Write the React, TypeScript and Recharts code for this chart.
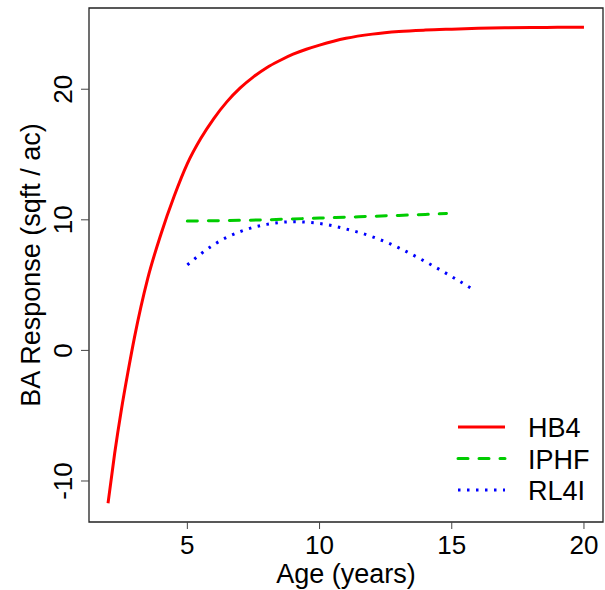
import React from "react";
import { LineChart, Line, XAxis, YAxis, ReferenceArea } from "recharts";

const hb4Age = [2, 2.25, 2.5, 2.75, 3, 3.5, 4, 4.5, 5, 5.5, 6, 6.5, 7, 7.5, 8, 8.5, 9, 9.5, 10, 11, 12, 13, 14, 15, 16, 17, 18, 19, 20];
const hb4Ba = [-11.7, -7.9, -4.6, -1.7, 1.0, 5.5, 8.9, 11.8, 14.3, 16.2, 17.75, 19.05, 20.1, 20.95, 21.65, 22.2, 22.68, 23.06, 23.38, 23.9, 24.22, 24.42, 24.53, 24.6, 24.66, 24.7, 24.72, 24.74, 24.75];

const iphfAge = [5, 6, 7, 8, 9, 10, 11, 12, 13, 14, 14.8];
const iphfBa = [9.9, 9.93, 9.96, 10.0, 10.07, 10.13, 10.2, 10.27, 10.34, 10.41, 10.48];

const rl4iAge = [5, 6, 7, 8, 9, 10, 11, 12, 13, 14, 15, 15.9];
const rl4iBa = [6.55, 8.1, 9.1, 9.65, 9.85, 9.72, 9.3, 8.7, 7.85, 6.8, 5.65, 4.55];

const xTicks = [5, 10, 15, 20];
const yTicks = [-10, 0, 10, 20];
const xDomain: [number, number] = [1.28, 20.72];
const yDomain: [number, number] = [-13.14, 26.22];

const hb4Data = hb4Age.map((a, i) => ({ age: a, ba: hb4Ba[i] }));
const iphfData = iphfAge.map((a, i) => ({ age: a, ba: iphfBa[i] }));
const rl4iData = rl4iAge.map((a, i) => ({ age: a, ba: rl4iBa[i] }));

const FONT = "'Liberation Sans', Arial, sans-serif";

const legendItems = [
  { name: "HB4", color: "#ff0000", dash: undefined as string | undefined, cap: "butt" },
  { name: "IPHF", color: "#00cc00", dash: "10 11", cap: "round" },
  { name: "RL4I", color: "#0000ff", dash: "2.5 6.5", cap: "butt" },
];

const YTick = (props: any) => {
  const { x, y, payload } = props;
  const tx = x - 7;
  return (
    <text x={tx} y={y} transform={`rotate(-90, ${tx}, ${y})`} textAnchor="middle" fontSize={26} fontFamily={FONT} fill="#000">
      {String(payload.value)}
    </text>
  );
};

const XTick = (props: any) => {
  const { x, y, payload } = props;
  return (
    <text x={x} y={y + 23} textAnchor="middle" fontSize={26} fontFamily={FONT} fill="#000">
      {String(payload.value)}
    </text>
  );
};

export default function App() {
  return (
    <div style={{ position: "absolute", left: 0, top: 0, width: 605, height: 590, background: "#fff" }}>
      <LineChart width={605} height={590} margin={{ top: 8, right: 2, bottom: 0, left: 0 }}>
        <XAxis
          type="number"
          dataKey="age"
          domain={xDomain}
          ticks={xTicks}
          allowDataOverflow
          height={68}
          axisLine={false}
          tickSize={7}
          tickLine={{ stroke: "#444", strokeWidth: 1 }}
          tick={<XTick />}
        />
        <YAxis
          type="number"
          dataKey="ba"
          domain={yDomain}
          ticks={yTicks}
          allowDataOverflow
          width={89}
          axisLine={false}
          tickSize={8}
          tickLine={{ stroke: "#444", strokeWidth: 1 }}
          tick={<YTick />}
        />
        <ReferenceArea x1={xDomain[0]} x2={xDomain[1]} y1={yDomain[0]} y2={yDomain[1]} fill="none" fillOpacity={0} stroke="#222" strokeWidth={1.3} ifOverflow="visible" />
        <Line data={hb4Data} dataKey="ba" type="monotone" stroke="#ff0000" strokeWidth={3} dot={false} isAnimationActive={false} />
        <Line data={iphfData} dataKey="ba" type="monotone" stroke="#00cc00" strokeWidth={3} strokeDasharray="10 11" strokeLinecap="round" dot={false} isAnimationActive={false} />
        <Line data={rl4iData} dataKey="ba" type="monotone" stroke="#0000ff" strokeWidth={3} strokeDasharray="2.5 6.5" dot={false} isAnimationActive={false} />
      </LineChart>
      <svg width={605} height={590} style={{ position: "absolute", left: 0, top: 0, pointerEvents: "none" }}>
        <text x={346} y={583} textAnchor="middle" fontSize={27} fontFamily={FONT} fill="#000">Age (years)</text>
        <text x={40} y={265} transform="rotate(-90, 40, 265)" textAnchor="middle" fontSize={27} fontFamily={FONT} fill="#000">
          BA Response (sqft / ac)
        </text>
        {legendItems.map((it, i) => {
          const cy = 427 + i * 31.5;
          return (
            <g key={it.name}>
              <line x1={458} x2={505} y1={cy} y2={cy} stroke={it.color} strokeWidth={3} strokeDasharray={it.dash} strokeLinecap={it.cap as any} />
              <text x={528} y={cy + 10} fontSize={27} fontFamily={FONT} fill="#000">{it.name}</text>
            </g>
          );
        })}
      </svg>
    </div>
  );
}
